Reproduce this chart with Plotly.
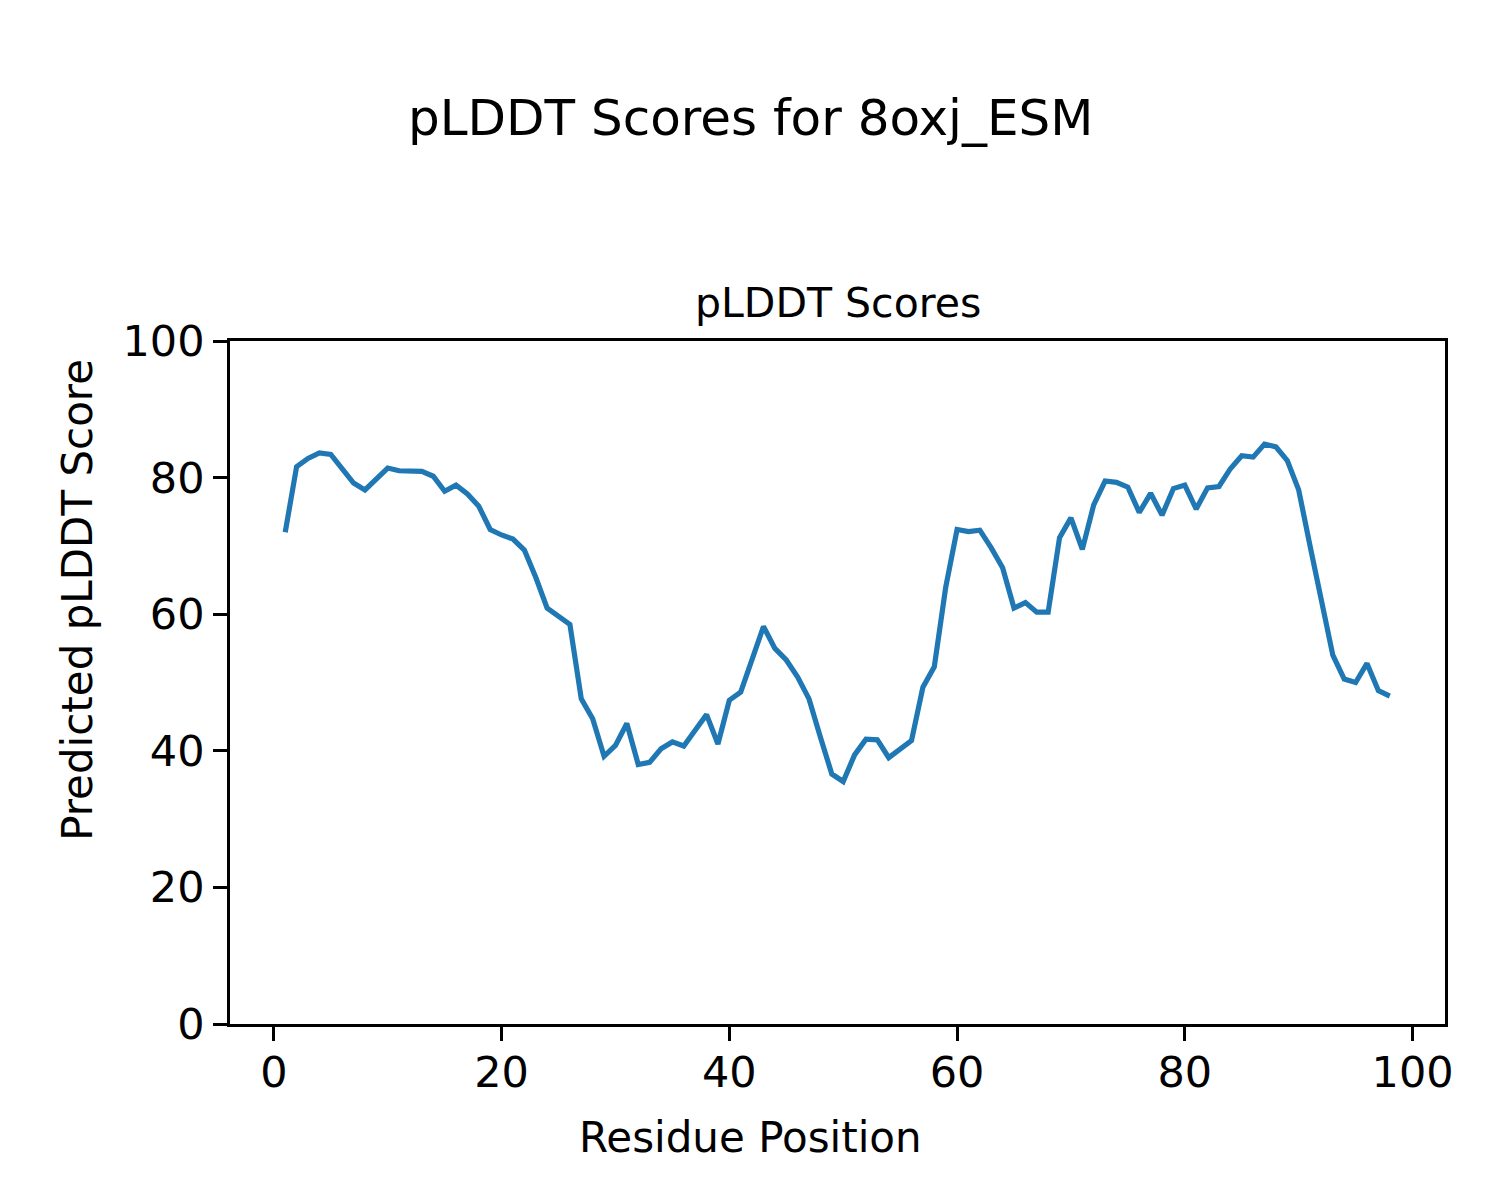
import plotly.graph_objects as go

residues = list(range(1, 99))
plddt = [72.0, 81.6, 82.8, 83.6, 83.4, 81.3, 79.2, 78.2, 79.8, 81.4,
         81.0, 80.9, 80.9, 80.2, 78.0, 78.9, 77.6, 75.8, 72.4, 71.6,
         71.0, 69.4, 65.4, 60.9, 59.6, 58.5, 47.6, 44.7, 39.2, 40.8,
         44.0, 38.0, 38.3, 40.3, 41.3, 40.7, 43.0, 45.3, 41.0, 47.4,
         48.6, 53.3, 58.2, 55.0, 53.3, 50.8, 47.6, 42.0, 36.6, 35.5,
         39.4, 41.7, 41.6, 39.0, 40.2, 41.5, 49.3, 52.3, 63.9, 72.4,
         72.1, 72.3, 69.7, 66.8, 60.9, 61.7, 60.3, 60.3, 71.2, 74.1,
         69.5, 76.0, 79.5, 79.3, 78.6, 74.9, 77.7, 74.5, 78.4, 78.9,
         75.4, 78.5, 78.7, 81.3, 83.2, 83.0, 84.9, 84.5, 82.5, 78.2,
         70.0, 62.0, 54.0, 50.5, 50.0, 52.8, 48.8, 48.0]
tick_vals = [0, 20, 40, 60, 80, 100]

fig = go.Figure()
fig.add_trace(go.Scatter(x=residues, y=plddt, mode="lines",
                         line=dict(color="#1f77b4", width=5.2)))

font = "DejaVu Sans, Liberation Sans, sans-serif"
axis_common = dict(showgrid=False, zeroline=False, showline=True, mirror=True,
                   linecolor="black", linewidth=2.8, ticks="outside",
                   ticklen=14, tickwidth=3, tickcolor="black",
                   tickvals=tick_vals, tickfont=dict(size=43, color="black", family=font))

fig.update_layout(
    width=1500, height=1200,
    margin=dict(l=222, r=63, t=333, b=184),
    paper_bgcolor="white", plot_bgcolor="white",
    showlegend=False,
    font=dict(family=font, color="black"),
    xaxis=dict(range=[-3.85, 102.85], ticklabelstandoff=-6, **axis_common),
    yaxis=dict(range=[0, 100], **axis_common),
    annotations=[
        dict(text="pLDDT Scores for 8oxj_ESM", xref="paper", yref="paper",
             x=0.428, y=1.3265, xanchor="center", yanchor="middle",
             showarrow=False, font=dict(size=50, color="black", family=font)),
        dict(text="pLDDT Scores", xref="paper", yref="paper",
             x=0.5, y=1.0556, xanchor="center", yanchor="middle",
             showarrow=False, font=dict(size=41, color="black", family=font)),
        dict(text="Residue Position", xref="paper", yref="paper",
             x=0.428, y=-0.1669, xanchor="center", yanchor="middle",
             showarrow=False, font=dict(size=42, color="black", family=font)),
        dict(text="Predicted pLDDT Score", xref="paper", yref="paper",
             x=-0.1251, y=0.621, xanchor="center", yanchor="middle", textangle=-90,
             showarrow=False, font=dict(size=42, color="black", family=font)),
    ],
)

fig.write_html("out.html")
